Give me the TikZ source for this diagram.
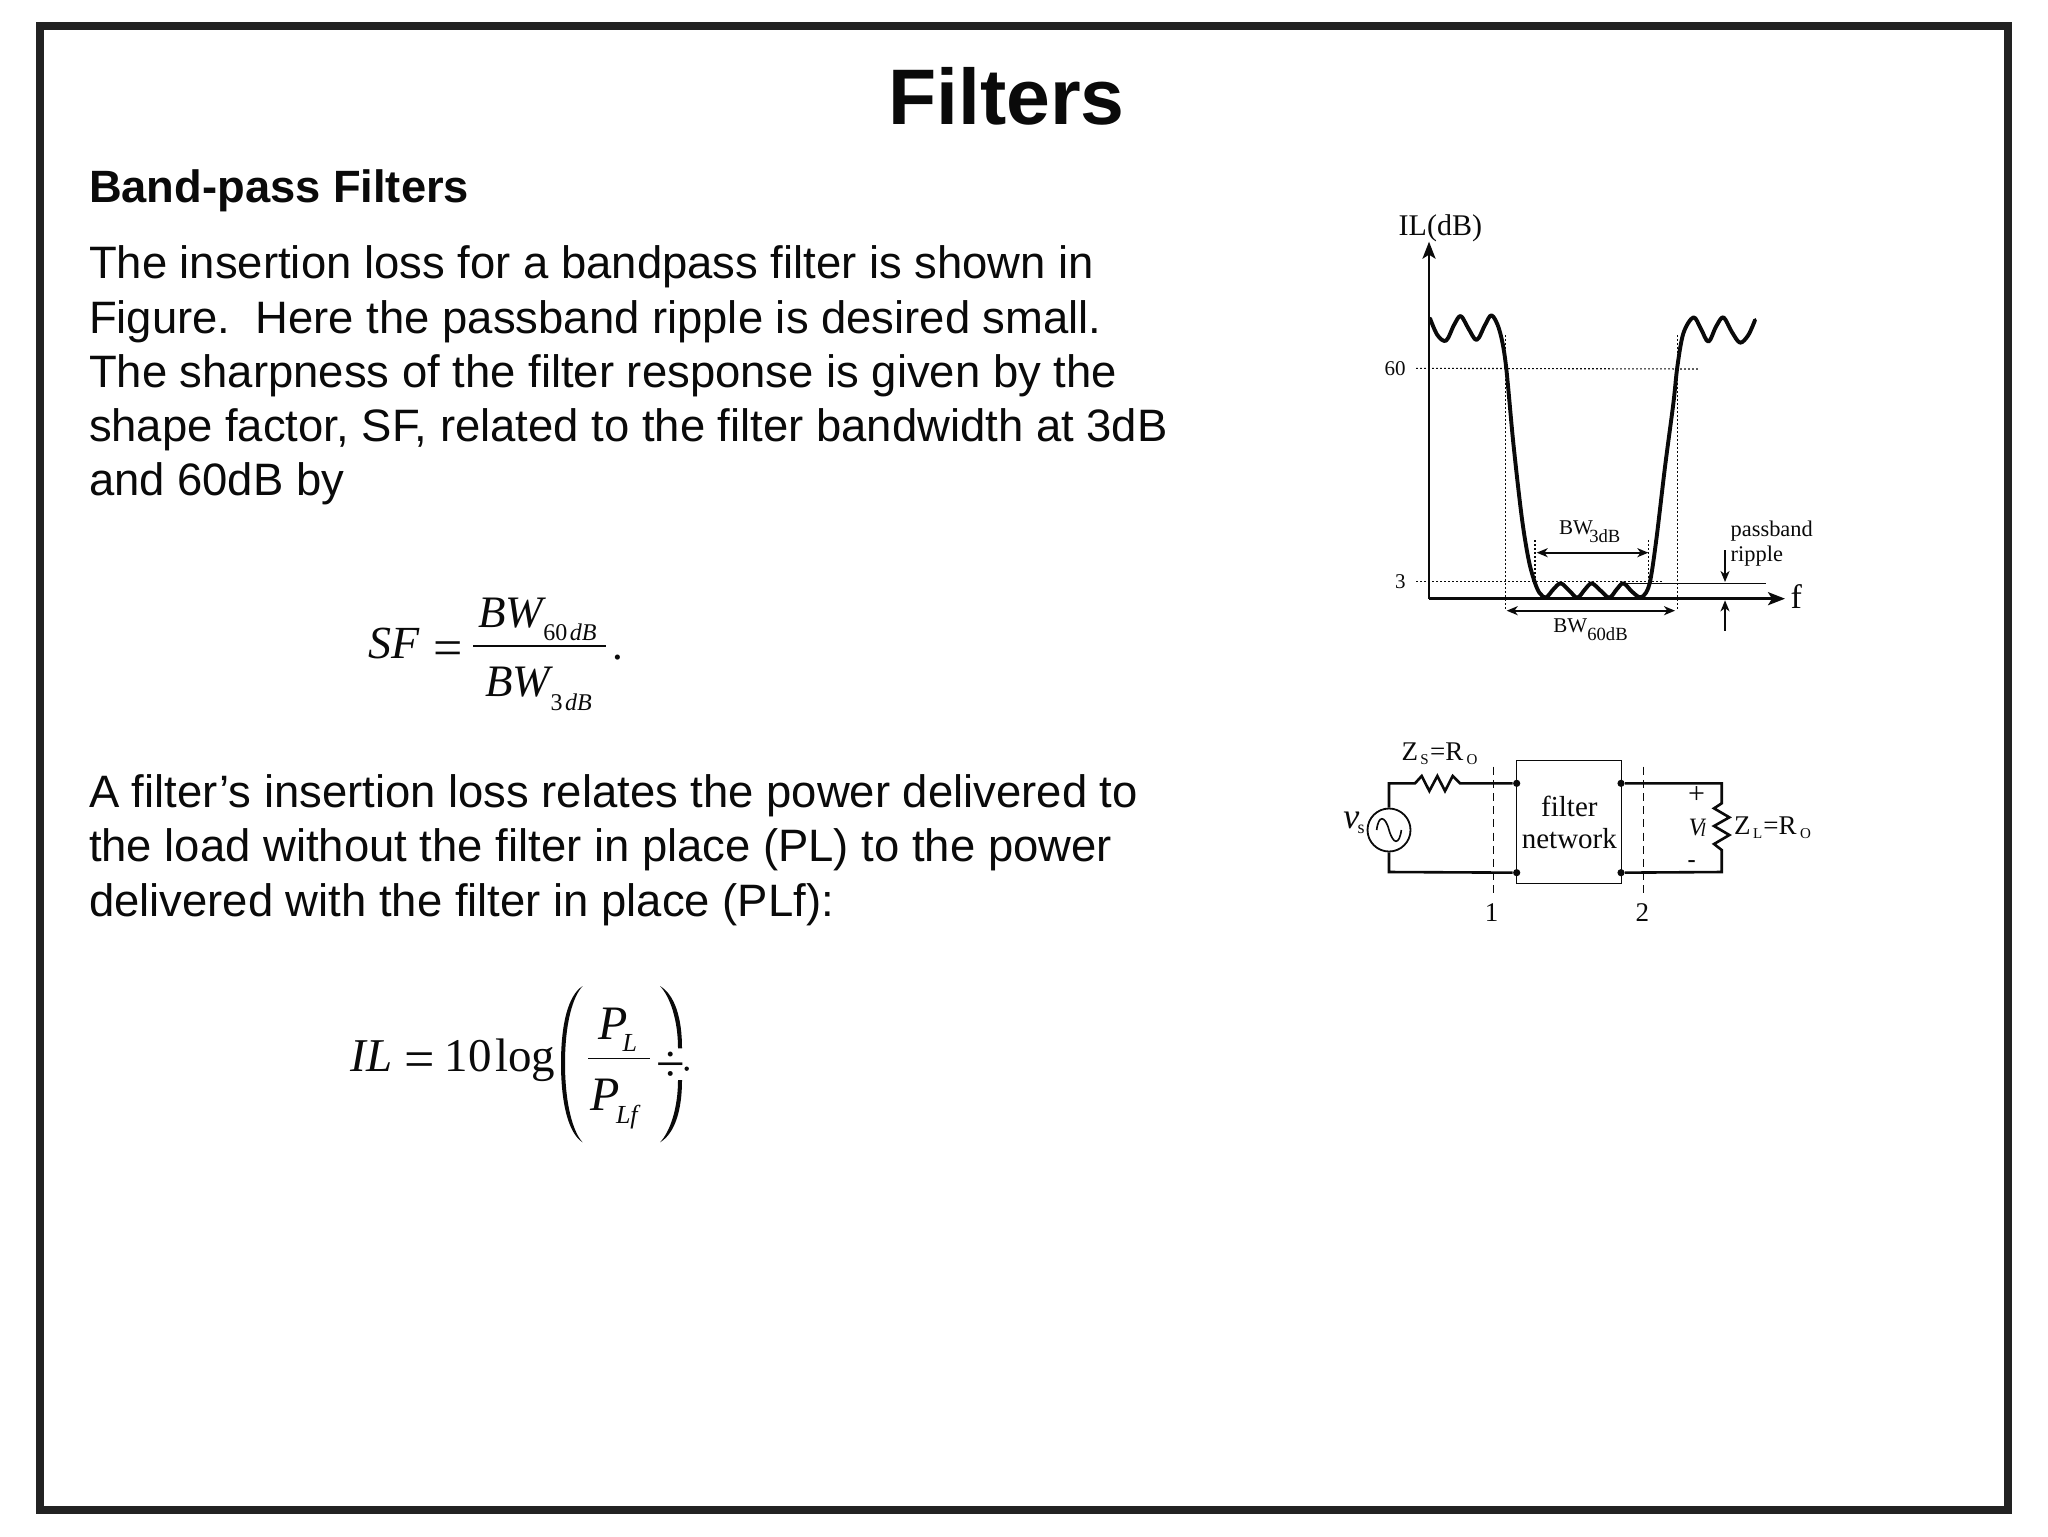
\documentclass[tikz,border=0pt]{standalone}
\usepackage{fontspec}
\setmainfont{Liberation Sans}
\newfontfamily\serif{Liberation Serif}
\usetikzlibrary{arrows.meta}
\definecolor{ink}{HTML}{0A0A0A}
\definecolor{framec}{HTML}{222222}
\tikzset{
  tb/.style={anchor=base west,inner sep=0pt,outer sep=0pt,text=ink},
  tc/.style={anchor=base,inner sep=0pt,outer sep=0pt,text=ink},
  body/.style={tb,font=\fontsize{22.72}{27}\selectfont},
  ser/.style={font=\serif\fontsize{#1}{#1}\selectfont},
  seri/.style={font=\serif\itshape\fontsize{#1}{#1}\selectfont},
  zoomed/.style={shift={#1},x=0.16667pt,y=-0.16667pt},
  wire/.style={draw=ink,line width=1.3pt,line join=miter},
  thin wire/.style={draw=ink,line width=0.8pt},
  dots/.style={draw=ink,line width=0.55pt,dash pattern=on 0.9pt off 1.1pt},
  ddash/.style={draw=ink,line width=0.85pt,dash pattern=on 4pt off 2.6pt},
  arrow2/.style={draw=ink,line width=0.85pt,{Stealth[length=5.5pt,width=4.5pt,inset=1.6pt]}-{Stealth[length=5.5pt,width=4.5pt,inset=1.6pt]}},
  arrow1/.style={draw=ink,line width=0.85pt,-{Stealth[length=5.5pt,width=4.5pt,inset=1.6pt]}},
  axis/.style={draw=ink,line width=1.35pt,-{Stealth[length=8.5pt,width=6.5pt,inset=2pt]}},
  dotn/.style={circle,fill=ink,inner sep=0pt,minimum size=3.6pt},
}
\begin{document}
\begin{tikzpicture}[x=0.5pt,y=-0.5pt]
\useasboundingbox (0,0) rectangle (2048,1536);
\fill[white] (0,0) rectangle (2048,1536);
\draw[framec,line width=4.15pt] (40.2,26) rectangle (2008.2,1510);
\node[tc,font=\bfseries\fontsize{39.4}{40}\selectfont] (title) at (1006.5,125) {Filters};
\node[tb,font=\bfseries\fontsize{22.65}{27}\selectfont] (head) at (89,202) {Band-pass Filters};
\node[body] (l1) at (89,278) {The insertion loss for a bandpass filter is shown in};
\node[body] (l2) at (89,333) {Figure.\ \ Here the passband ripple is desired small.};
\node[body] (l3) at (89,387) {The sharpness of the filter response is given by the};
\node[body] (l4) at (89,441) {shape factor{,} SF{,} related to the filter bandwidth at 3dB};
\node[body] (l5) at (89,495) {and 60dB by};
\node[body] (m1) at (89,807) {A filter’s insertion loss relates the power delivered to};
\node[body] (m2) at (89,861) {the load without the filter in place (PL) to the power};
\node[body] (m3) at (89,916) {delivered with the filter in place (PLf):};

% SF equation
\begin{scope}[zoomed={(320,570)}]
\node[tb,seri=23] (sf) at (145,265) {SF};
\node[tb,ser=26] (eqa) at (340,285) {=};
\node[tb,seri=22.5] (bw1) at (475,172) {BW};
\node[tb,ser=12] (s60) at (670,210) {60\hspace{.1em}\itshape dB};
\coordinate (fa) at (460,228); \coordinate (fb) at (858,228);
\draw[thin wire] (fa) -- (fb);
\node[tb,ser=21.5] (per) at (877,268) {.};
\node[tb,seri=22.5] (bw2) at (495,380) {BW};
\node[tb,ser=12] (s3) at (692,420) {3\hspace{.1em}\itshape dB};
\end{scope}

% IL equation
\begin{scope}[zoomed={(320,960)}]
\node[tb,seri=23.5] (il) at (92,333) {IL};
\node[tb,ser=27] (eqb) at (252,353) {=};
\node[tb,ser=23.5] (ten) at (374,333) {10};
\node[tb,ser=23.5] (lg) at (525,333) {log};
\fill[ink] (788,78) .. controls (745,105) and (723,190) .. (723,310) .. controls (723,430) and (745,520) .. (788,547)
 .. controls (758,515) and (735,430) .. (735,310) .. controls (735,190) and (758,110) .. (788,78) -- cycle;
\fill[ink] (1020,78) .. controls (1065,105) and (1086,175) .. (1086,265) -- (1074,265) .. controls (1074,180) and (1050,110) .. (1020,78) -- cycle;
\fill[ink] (1020,547) .. controls (1065,520) and (1086,450) .. (1086,360) -- (1074,360) .. controls (1074,445) and (1050,515) .. (1020,547) -- cycle;
\node[tb,seri=24] (p1) at (835,237) {P};
\node[tb,seri=13] (sl) at (908,275) {L};
\coordinate (ga) at (805,295); \coordinate (gb) at (990,295);
\draw[thin wire] (ga) -- (gb);
\node[tb,seri=24] (p2) at (812,450) {P};
\node[tb,seri=13] (slf) at (888,490) {Lf};
\node[tc,ser=26] (divi) at (1052,364) {÷};
\node[dotn,minimum size=2.2pt] (dv) at (1100,326) {};
\end{scope}

% Insertion loss graph
\begin{scope}[zoomed={(1340,190)}]
\coordinate (o) at (267,1226);
\coordinate (ytop) at (267,155);
\coordinate (xend) at (1335,1226);
\draw[dots] (228,535) -- (1075,537);
\draw[dots] (228,1175) -- (965,1175);
\draw[dots] (497,435) -- (497,1262);
\draw[dots] (1012,435) -- (1012,1262);
\draw[dots] (585,1050) -- (585,1180);
\draw[dots] (926,1050) -- (926,1180);
\draw[axis] (o) -- (ytop);
\draw[axis] (o) -- (xend);
\draw[line width=0.7pt,ink] (850,1180) -- (1278,1180);
\draw[ink,line width=1.95pt,line join=round,line cap=round,smooth,tension=0.55]
 plot coordinates {(270,385) (292,435) (318,452) (342,405) (362,378) (385,415) (410,450) (435,405) (455,376) (478,420) (497,520) (520,760) (545,980) (565,1105) (582,1170) (598,1208) (618,1222) (640,1198) (662,1180) (688,1202) (712,1223) (735,1198) (755,1180) (782,1202) (808,1223) (830,1198) (850,1180) (876,1205) (900,1222) (918,1208) (932,1165) (950,1040) (975,830) (1000,640) (1012,530) (1030,430) (1060,382) (1082,415) (1105,455) (1128,410) (1150,382) (1175,425) (1200,458) (1225,435) (1245,390)};
\draw[arrow2] (590,1088) -- (925,1088);
\draw[arrow2] (500,1262) -- (1005,1262);
\coordinate (ra) at (1155,1080); \coordinate (rb) at (1155,1176);
\coordinate (rc) at (1155,1322); \coordinate (rd) at (1155,1231);
\draw[arrow1] (ra) -- (rb);
\draw[arrow1] (rc) -- (rd);
\node[tb,ser=15] (ild) at (176,135) {IL(dB)};
\node[tb,ser=10.5] (n60) at (134,555) {60};
\node[tb,ser=10.5] (n3) at (165,1195) {3};
\node[tb,ser=10.5] (b3) at (657,1032) {BW};
\node[tb,ser=9.3] (b3s) at (748,1057) {3dB};
\node[tb,ser=10.5] (b60) at (640,1327) {BW};
\node[tb,ser=9.3] (b60s) at (742,1350) {60dB};
\node[tb,ser=11.2] (pb) at (1172,1040) {passband};
\node[tb,ser=11.2] (rp) at (1172,1113) {ripple};
\node[tb,ser=17] (ff) at (1352,1255) {f};
\end{scope}

% Circuit
\begin{scope}[zoomed={(1310,720)}]
\node[draw=ink,line width=0.7pt,minimum width=52.5pt,minimum height=61.3pt,inner sep=0pt] (net) at (777.5,306) {};
\node[tc,ser=14.5] (fil) at (778,290) {filter};
\node[tc,ser=14.5] (nw) at (778,385) {network};
\node[dotn] (d1) at (620,190) {};
\node[dotn] (d2) at (620,458) {};
\node[dotn] (d3) at (933,190) {};
\node[dotn] (d4) at (933,458) {};
\node[circle,draw=ink,line width=0.9pt,minimum size=21.5pt,inner sep=0pt] (src) at (237,330) {};
\draw[wire] (src.north) -- (237,190) -- (315,190) -- (335,168) -- (358,213) -- (382,168) -- (405,213) -- (428,168) -- (450,190) -- (d1);
\draw[wire] (src.south) -- (237,456) -- (d2);
\draw[wire] (d3) -- (1235,190) -- (1235,250) -- (1212,265) -- (1258,292) -- (1212,318) -- (1258,345) -- (1212,372) -- (1235,390) -- (1235,456) -- (d4);
\draw[ink,line width=0.8pt] (200,330) .. controls (205,285) and (225,285) .. (237,330) .. controls (250,375) and (268,375) .. (274,330);
\draw[ddash] (550,140) -- (550,530);
\draw[ddash] (1000,140) -- (1000,530);
\node[tb,ser=13.5] (zs) at (275,120) {Z};
\node[tb,ser=7.5] (zss) at (331,133) {S};
\node[tb,ser=13.5] (zse) at (360,120) {=R};
\node[tb,ser=7.5] (zso) at (470,133) {O};
\node[tb,seri=18] (vs) at (100,325) {v};
\node[tb,ser=9] (vss) at (143,340) {s};
\node[tc,ser=15] (plus) at (1160,250) {+};
\node[tb,seri=12.5] (vl) at (1136,345) {V};
\node[tb,seri=9.5] (vll) at (1172,350) {l};
\node[tc,font=\fontsize{13}{13}\selectfont] (minus) at (1145,444) {-};
\node[tb,ser=13.5] (zl) at (1272,342) {Z};
\node[tb,ser=7.5] (zll) at (1329,355) {L};
\node[tb,ser=13.5] (zle) at (1360,342) {=R};
\node[tb,ser=7.5] (zlo) at (1470,355) {O};
\node[tc,ser=13.5] (one) at (545,605) {1};
\node[tc,ser=13.5] (two) at (997,605) {2};
\end{scope}
\end{tikzpicture}
\end{document}
